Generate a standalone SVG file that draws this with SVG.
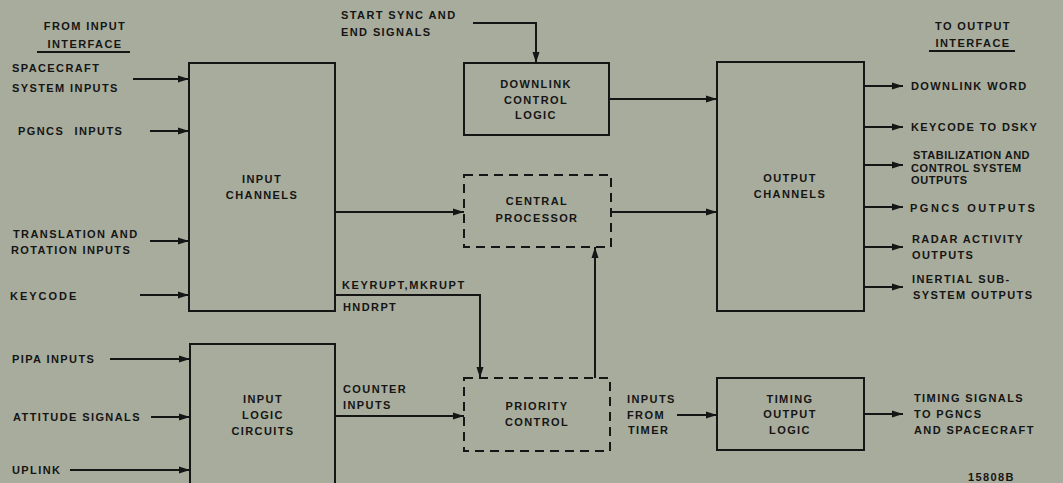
<svg xmlns="http://www.w3.org/2000/svg" width="1063" height="483" viewBox="0 0 1063 483">
<defs>
<marker id="ah" markerUnits="userSpaceOnUse" markerWidth="12" markerHeight="10" refX="11" refY="5" orient="auto">
<path d="M0,1.5 L11,5 L0,8.5 Z" fill="#151515"/>
</marker>
<style>
.t{font-family:"Liberation Sans",Arial,sans-serif;font-size:11px;font-weight:bold;letter-spacing:1.4px;fill:#151515}
.c{text-anchor:middle}
.b{fill:none;stroke:#151515;stroke-width:2}
.d{fill:none;stroke:#151515;stroke-width:2;stroke-dasharray:9 6}
.l{fill:none;stroke:#151515;stroke-width:2}
.a{marker-end:url(#ah)}
</style>
</defs>
<rect width="1063" height="483" fill="#a8ac9c"/>

<g id="hdr-in">
<text class="t c" x="85" y="30">FROM INPUT</text>
<text class="t c" x="85" y="48">INTERFACE</text>
<line x1="37" y1="52" x2="130" y2="52" class="l" stroke-width="1.5"/>
</g>
<g id="hdr-out">
<text class="t c" x="973" y="30">TO OUTPUT</text>
<text class="t c" x="973" y="47">INTERFACE</text>
<line x1="929" y1="51" x2="1015" y2="51" class="l" stroke-width="1.5"/>
</g>

<g id="input-channels">
<rect class="b" x="189" y="63" width="146" height="248"/>
<text class="t c" x="262" y="183">INPUT</text>
<text class="t c" x="262" y="199">CHANNELS</text>
</g>
<g id="input-logic">
<rect class="b" x="190" y="344" width="145" height="150"/>
<text class="t c" x="263" y="403">INPUT</text>
<text class="t c" x="263" y="419">LOGIC</text>
<text class="t c" x="263" y="435">CIRCUITS</text>
</g>
<g id="downlink-control">
<rect class="b" x="464" y="63" width="145" height="72"/>
<text class="t c" x="536" y="88">DOWNLINK</text>
<text class="t c" x="536" y="104">CONTROL</text>
<text class="t c" x="536" y="119">LOGIC</text>
</g>
<g id="central-processor">
<rect class="d" x="464" y="175" width="147" height="72"/>
<text class="t c" x="537" y="205">CENTRAL</text>
<text class="t c" x="537" y="222">PROCESSOR</text>
</g>
<g id="priority-control">
<rect class="d" x="464" y="378" width="146" height="73"/>
<text class="t c" x="537" y="410">PRIORITY</text>
<text class="t c" x="537" y="426">CONTROL</text>
</g>
<g id="output-channels">
<rect class="b" x="717" y="62" width="147" height="249"/>
<text class="t c" x="790" y="182">OUTPUT</text>
<text class="t c" x="790" y="198">CHANNELS</text>
</g>
<g id="timing-output">
<rect class="b" x="717" y="378" width="147" height="72"/>
<text class="t c" x="790" y="403">TIMING</text>
<text class="t c" x="790" y="418">OUTPUT</text>
<text class="t c" x="790" y="434">LOGIC</text>
</g>

<g id="labels">
<text class="t" x="12" y="72">SPACECRAFT</text>
<text class="t" x="12" y="92">SYSTEM INPUTS</text>
<text class="t" x="18" y="135" style="word-spacing:6px">PGNCS INPUTS</text>
<text class="t" x="13" y="238">TRANSLATION AND</text>
<text class="t" x="11" y="254">ROTATION INPUTS</text>
<text class="t" x="10" y="300" style="letter-spacing:2px">KEYCODE</text>
<text class="t" x="12" y="363">PIPA INPUTS</text>
<text class="t" x="13" y="421">ATTITUDE SIGNALS</text>
<text class="t" x="12" y="474">UPLINK</text>
<text class="t" x="341" y="19">START SYNC AND</text>
<text class="t" x="341" y="36">END SIGNALS</text>
<text class="t" x="342" y="289" style="letter-spacing:1.6px">KEYRUPT,MKRUPT</text>
<text class="t" x="343" y="311">HNDRPT</text>
<text class="t" x="343" y="393">COUNTER</text>
<text class="t" x="343" y="409">INPUTS</text>
<text class="t" x="627" y="403">INPUTS</text>
<text class="t" x="627" y="419">FROM</text>
<text class="t" x="628" y="434">TIMER</text>
<text class="t" x="911" y="90">DOWNLINK WORD</text>
<text class="t" x="911" y="131">KEYCODE TO DSKY</text>
<text class="t" x="913" y="159" style="letter-spacing:0.5px">STABILIZATION AND</text>
<text class="t" x="911" y="172" style="letter-spacing:0.6px">CONTROL SYSTEM</text>
<text class="t" x="911" y="184" style="letter-spacing:0.6px">OUTPUTS</text>
<text class="t" x="910" y="212" style="letter-spacing:2.5px">PGNCS OUTPUTS</text>
<text class="t" x="912" y="243">RADAR ACTIVITY</text>
<text class="t" x="912" y="259">OUTPUTS</text>
<text class="t" x="912" y="283">INERTIAL SUB-</text>
<text class="t" x="913" y="299">SYSTEM OUTPUTS</text>
<text class="t" x="914" y="402">TIMING SIGNALS</text>
<text class="t" x="914" y="418">TO PGNCS</text>
<text class="t" x="914" y="434">AND SPACECRAFT</text>
<text class="t" x="968" y="481">15808B</text>
</g>

<g id="connectors">
<line class="l a" x1="133" y1="79" x2="189" y2="79"/>
<line class="l a" x1="150" y1="131" x2="189" y2="131"/>
<line class="l a" x1="150" y1="241" x2="189" y2="241"/>
<line class="l a" x1="140" y1="295" x2="189" y2="295"/>
<line class="l a" x1="110" y1="359" x2="190" y2="359"/>
<line class="l a" x1="151" y1="417" x2="190" y2="417"/>
<line class="l a" x1="70" y1="470" x2="190" y2="470"/>
<polyline class="l a" points="473,23 536,23 536,63"/>
<line class="l a" x1="609" y1="99" x2="717" y2="99"/>
<line class="l a" x1="335" y1="212" x2="464" y2="212"/>
<line class="l a" x1="611" y1="212" x2="717" y2="212"/>
<polyline class="l a" points="335,295 480,295 480,378"/>
<line class="l a" x1="595" y1="378" x2="595" y2="247"/>
<line class="l a" x1="335" y1="416" x2="464" y2="416"/>
<line class="l a" x1="677" y1="415" x2="717" y2="415"/>
<line class="l a" x1="864" y1="86" x2="903" y2="86"/>
<line class="l a" x1="864" y1="127" x2="903" y2="127"/>
<line class="l a" x1="864" y1="165" x2="903" y2="165"/>
<line class="l a" x1="864" y1="207" x2="903" y2="207"/>
<line class="l a" x1="864" y1="247" x2="903" y2="247"/>
<line class="l a" x1="864" y1="287" x2="903" y2="287"/>
<line class="l a" x1="864" y1="414" x2="903" y2="414"/>
</g>
</svg>
